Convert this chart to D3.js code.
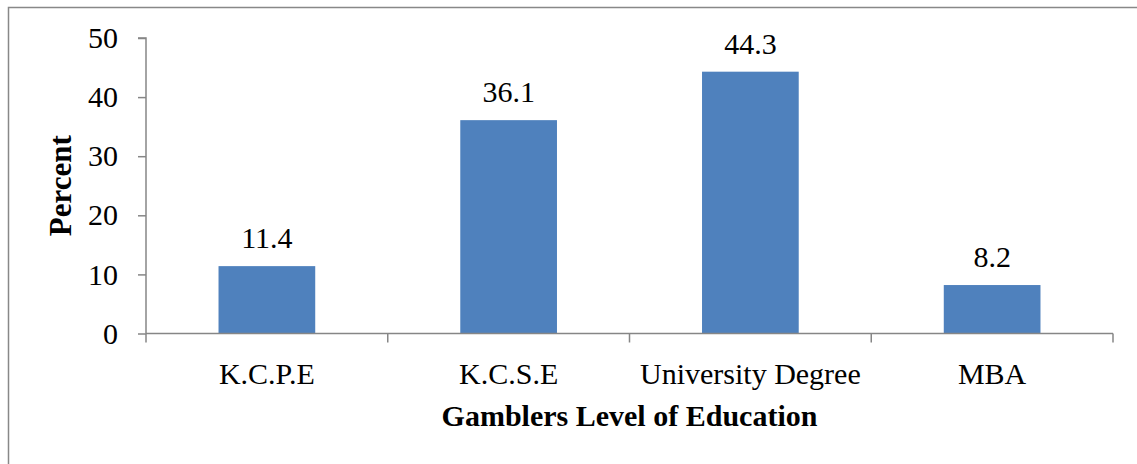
<!DOCTYPE html>
<html><head><meta charset="utf-8">
<script src="https://cdn.jsdelivr.net/npm/d3@7"></script>
<style>
html,body{margin:0;padding:0;background:#fff;}
svg{display:block;}
text{font-family:"Liberation Serif","Times New Roman",serif;fill:#000;}
</style></head>
<body>
<svg id="chart" width="1137" height="464"></svg>
<script>
const categories = ["K.C.P.E", "K.C.S.E", "University Degree", "MBA"];
const percents = [11.4, 36.1, 44.3, 8.2];
const yTicks = [0, 10, 20, 30, 40, 50];
const xTitle = "Gamblers Level of Education";
const yTitle = "Percent";

const svg = d3.select("#chart");
const W = 1137, H = 464;
const plot = {left: 146, right: 1113, top: 38, bottom: 333.5};
const FONT = "Liberation Serif";

// outer border
svg.append("rect").attr("x", 8.5).attr("y", 7.5).attr("width", W + 10).attr("height", H + 10)
  .attr("fill", "none").attr("stroke", "#888").attr("stroke-width", 1.5);

const x = d3.scaleBand().domain(categories).range([plot.left, plot.right]).paddingInner(0.6).paddingOuter(0.3);
const xEdge = d3.scaleLinear().domain([0, categories.length]).range([plot.left, plot.right]);
const y = d3.scaleLinear().domain([0, 50]).range([plot.bottom, plot.top]);

// bars
svg.append("g").selectAll("rect").data(categories).join("rect")
  .attr("x", d => x(d)).attr("width", x.bandwidth())
  .attr("y", (d, i) => y(percents[i])).attr("height", (d, i) => y(0) - y(percents[i]))
  .attr("fill", "#4F81BD");

// y axis
const yAxis = d3.axisLeft(y).tickValues(yTicks).tickSize(8).tickPadding(20).tickFormat(d3.format("d"));
const gy = svg.append("g").attr("transform", `translate(${plot.left},0)`).call(yAxis)
  .attr("font-family", FONT);
gy.select(".domain").attr("stroke", "#868686").attr("stroke-width", 1.5).attr("d", `M-8,${plot.top}H0V${plot.bottom}`);
gy.selectAll(".tick line").attr("stroke", "#868686").attr("stroke-width", 1.5);
gy.selectAll(".tick text").style("font-family", FONT).style("font-size", "30px").attr("fill", "#000");

// x axis
const gx = svg.append("g").attr("transform", `translate(0,${plot.bottom})`);
gx.append("line").attr("x1", plot.left).attr("x2", plot.right).attr("y1", 0).attr("y2", 0)
  .attr("stroke", "#868686").attr("stroke-width", 1.5);
gx.selectAll("line.tk").data(d3.range(categories.length + 1)).join("line").attr("class", "tk")
  .attr("x1", d => xEdge(d)).attr("x2", d => xEdge(d)).attr("y1", 0).attr("y2", 9)
  .attr("stroke", "#868686").attr("stroke-width", 1.5);
gx.selectAll("text").data(categories).join("text")
  .attr("x", d => x(d) + x.bandwidth() / 2).attr("y", 50)
  .attr("text-anchor", "middle").style("font-family", FONT).style("font-size", "30px").text(d => d);

// value labels
svg.append("g").selectAll("text").data(categories).join("text")
  .attr("x", d => x(d) + x.bandwidth() / 2).attr("y", (d, i) => y(percents[i]) - 18)
  .attr("text-anchor", "middle").style("font-family", FONT).style("font-size", "30px").text((d, i) => percents[i]);

// titles
svg.append("text").attr("x", (plot.left + plot.right) / 2).attr("y", 426)
  .attr("text-anchor", "middle").style("font-family", FONT).style("font-size", "30px").style("font-weight", "bold").text(xTitle);
svg.append("text").attr("transform", `translate(71,${(plot.top + plot.bottom) / 2}) rotate(-90)`)
  .attr("text-anchor", "middle").style("font-family", FONT).style("font-size", "31px").style("font-weight", "bold").text(yTitle);
</script>
</body></html>
